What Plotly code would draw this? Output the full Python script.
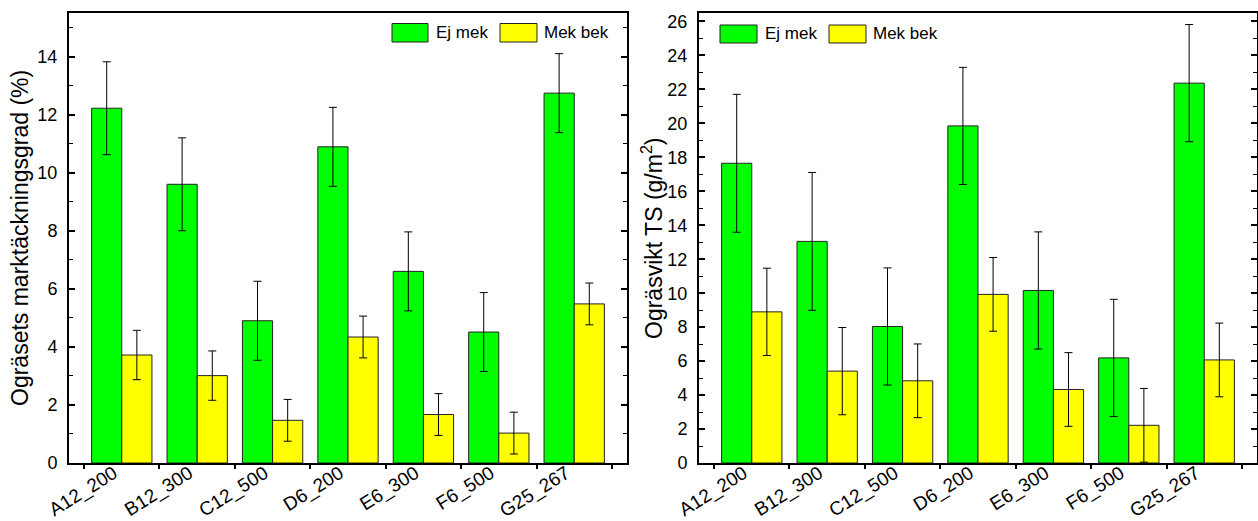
import plotly.graph_objects as go

# ---------------- data ----------------
categories = ["A12_200", "B12_300", "C12_500", "D6_200", "E6_300", "F6_500", "G25_267"]
series_names = ["Ej mek", "Mek bek"]

cover_ej = [12.22, 9.60, 4.90, 10.89, 6.60, 4.51, 12.74]
cover_ej_err = [1.60, 1.60, 1.36, 1.36, 1.36, 1.36, 1.36]
cover_mek = [3.72, 3.01, 1.47, 4.34, 1.67, 1.03, 5.48]
cover_mek_err = [0.85, 0.85, 0.72, 0.72, 0.72, 0.72, 0.72]

weight_ej = [17.65, 13.05, 8.04, 19.85, 10.16, 6.19, 22.37]
weight_ej_err = [4.06, 4.06, 3.45, 3.45, 3.45, 3.45, 3.45]
weight_mek = [8.90, 5.41, 4.84, 9.93, 4.33, 2.22, 6.07]
weight_mek_err = [2.57, 2.57, 2.17, 2.17, 2.17, 2.17, 2.17]

left_title = "Ogräsets marktäckningsgrad (%)"
right_title = "Ogräsvikt TS (g/m<sup>2</sup>)"

# ---------------- style ----------------
W, H = 1258, 521
M_T, M_B = 13, 58
GREEN = "#00FF00"
YELLOW = "#FFFF00"
FONT = "Liberation Sans, Arial, sans-serif"
colors = [GREEN, YELLOW]


def px_x(x):
    return x / W


def px_y(y):
    return (H - M_B - y) / (H - M_T - M_B)


fig = go.Figure()

panels = [
    ("x", "y", [cover_ej, cover_mek], [cover_ej_err, cover_mek_err]),
    ("x2", "y2", [weight_ej, weight_mek], [weight_ej_err, weight_mek_err]),
]
for xa, ya, vals, errs in panels:
    for name, v, e, c in zip(series_names, vals, errs, colors):
        fig.add_trace(go.Bar(
            x=categories, y=v, name=name, xaxis=xa, yaxis=ya,
            marker=dict(color=c, line=dict(color="#222222", width=1)),
            error_y=dict(type="data", array=e, visible=True,
                         color="#000000", thickness=1, width=4),
            showlegend=False,
        ))

common_x = dict(
    type="category", range=[-0.7, 6.7], tickson="boundaries",
    ticks="outside", ticklen=4, tickwidth=1.5, tickcolor="black",
    showline=True, linecolor="black", linewidth=2, mirror=True,
    tickangle=-32, tickfont=dict(family=FONT, size=19, color="black"),
    showgrid=False, zeroline=False, automargin=False,
    ticklabelstandoff=-10, ticklabelshift=-8, ticklabeloverflow="allow",
)
common_y = dict(
    ticks="inside", ticklen=6, tickwidth=1.5, tickcolor="black",
    showline=True, linecolor="black", linewidth=2, mirror="allticks",
    tickfont=dict(family=FONT, size=18, color="black"),
    minor=dict(dtick=1, ticks="inside", ticklen=4, tickwidth=1.2, tickcolor="black"),
    showgrid=False, zeroline=False, ticklabelstandoff=6, automargin=False,
)

fig.update_layout(
    width=W, height=H,
    margin=dict(l=0, r=0, t=M_T, b=M_B),
    paper_bgcolor="white", plot_bgcolor="white",
    barmode="group", bargap=0.2, bargroupgap=0,
    font=dict(family=FONT, color="black"),
    xaxis=dict(common_x, domain=[px_x(69), px_x(627)], anchor="y"),
    xaxis2=dict(common_x, domain=[px_x(699), px_x(1257)], anchor="y2"),
    yaxis=dict(common_y, range=[0, 15.5], dtick=2, anchor="x"),
    yaxis2=dict(common_y, range=[0, 26.5], dtick=2, anchor="x2"),
)

# ---------------- axis titles (rotated annotations) ----------------
for tx, text in [(20, left_title), (652, right_title)]:
    fig.add_annotation(xref="paper", yref="paper", x=px_x(tx), y=px_y(238),
                       text=text, textangle=-90, showarrow=False,
                       xanchor="center", yanchor="middle",
                       font=dict(family=FONT, size=23, color="black"))

# ---------------- manual legends ----------------
legend_specs = [
    # (green box x0, x1, text x, yellow box x0, x1, text x, y0, y1)
    (392, 428, 434, 500, 537, 542, 23.5, 42),
    (720, 757, 763, 829, 866, 871, 25, 43),
]
for gx0, gx1, gtx, yx0, yx1, ytx, y0, y1 in legend_specs:
    for (bx0, bx1, tx), name, c in zip([(gx0, gx1, gtx), (yx0, yx1, ytx)], series_names, colors):
        fig.add_shape(type="rect", xref="paper", yref="paper",
                      x0=px_x(bx0), x1=px_x(bx1), y0=px_y(y1), y1=px_y(y0),
                      fillcolor=c, line=dict(color="#222222", width=1))
        fig.add_annotation(xref="paper", yref="paper", x=px_x(tx), y=px_y((y0 + y1) / 2),
                           text=name, showarrow=False, xanchor="left", yanchor="middle",
                           font=dict(family=FONT, size=17, color="black"))

fig.write_html("out.html")
